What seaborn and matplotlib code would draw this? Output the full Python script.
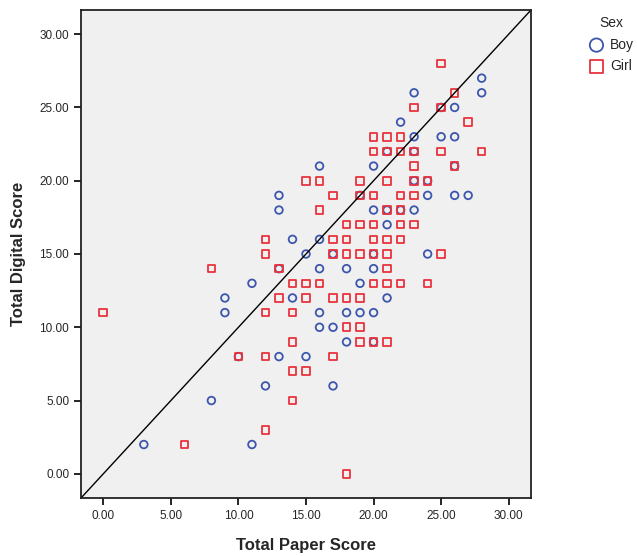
import pandas as pd
import numpy as np
import seaborn as sns
import matplotlib.pyplot as plt

# scores (paper, digital)
boy_paper = [28, 23, 28, 25, 26, 22, 23, 25, 26, 21, 23, 16, 20, 26, 23, 24,
             19, 24, 26, 27, 20, 21, 22, 23, 21, 16, 15, 17, 20, 24, 16, 18,
             20, 19, 21, 16, 18, 19, 20, 16, 17, 18, 20, 15, 17,
             13, 11, 9, 14, 9, 10, 13, 12, 8, 3, 11, 13, 13, 14]
boy_digital = [27, 26, 26, 25, 25, 24, 23, 23, 23, 22, 22, 21, 21, 21, 20, 20,
               19, 19, 19, 19, 18, 18, 18, 18, 17, 16, 15, 15, 15, 15, 14, 14,
               14, 13, 12, 11, 11, 11, 11, 10, 10, 9, 9, 8, 6,
               14, 13, 12, 12, 11, 8, 8, 6, 5, 2, 2, 19, 18, 16]

girl_paper = [25, 26, 23, 25, 27, 20, 21, 22, 20, 21, 22, 23, 25, 28, 23, 26,
              15, 16, 19, 21, 23, 24, 17, 19, 20, 22, 23, 16, 21, 22,
              18, 19, 20, 22, 23, 17, 18, 20, 21, 22, 17, 18, 19, 20, 21, 25,
              21, 15, 16, 20, 21, 22, 24, 15, 17, 18, 19, 18, 19, 19, 20, 21,
              17, 15, 18,
              12, 8, 13, 14, 13, 0, 12, 14, 14, 10, 12, 14, 14, 12, 6, 12]
girl_digital = [28, 26, 25, 25, 24, 23, 23, 23, 22, 22, 22, 22, 22, 22, 21, 21,
                20, 20, 20, 20, 20, 20, 19, 19, 19, 19, 19, 18, 18, 18,
                17, 17, 17, 17, 17, 16, 16, 16, 16, 16, 15, 15, 15, 15, 15, 15,
                14, 13, 13, 13, 13, 13, 13, 12, 12, 12, 12, 10, 10, 9, 9, 9,
                8, 7, 0,
                15, 14, 14, 13, 12, 11, 11, 11, 9, 8, 8, 7, 5, 3, 2, 16]

sexes = ["Boy", "Girl"]
markers = {"Boy": "o", "Girl": "s"}
colors = {"Boy": "#3d56ad", "Girl": "#e8333d"}

df = pd.concat([
    pd.DataFrame({"paper": boy_paper, "digital": boy_digital, "Sex": "Boy"}),
    pd.DataFrame({"paper": girl_paper, "digital": girl_digital, "Sex": "Girl"}),
])

sns.set_style("ticks")
plt.rcParams["font.family"] = ["Liberation Sans", "DejaVu Sans"]

fig = plt.figure(figsize=(6.37, 5.56), dpi=100)
ax = fig.add_axes([81 / 637, 1 - 498 / 556, 450 / 637, 488 / 556])
ax.set_facecolor("#f0f0f0")

for s in sexes:
    sub = df[df["Sex"] == s]
    sns.scatterplot(data=sub, x="paper", y="digital", marker=markers[s],
                    s=30, facecolor="none",
                    edgecolor=colors[s], linewidth=1.3, label=s, ax=ax)

# reference line y = x, corner to corner
lo, hi = -1.65, 31.65
ax.plot([lo, hi], [lo, hi], color="black", lw=1)
ax.set_xlim(lo, hi)
ax.set_ylim(lo, hi)

ticks = np.arange(0, 31, 5)
ax.set_xticks(ticks)
ax.set_yticks(ticks)
ax.set_xticklabels([f"{t:.2f}" for t in ticks], fontsize=8.5)
ax.set_yticklabels([f"{t:.2f}" for t in ticks], fontsize=8.5)
ax.tick_params(direction="out", length=5, width=1.2, color="black")

for sp in ax.spines.values():
    sp.set_visible(True)
    sp.set_color("#222222")
    sp.set_linewidth(1.3)

ax.set_xlabel("Total Paper Score", fontsize=12, fontweight="bold", labelpad=12)
ax.set_ylabel("Total Digital Score", fontsize=12, fontweight="bold", labelpad=10)

ax.legend(title="Sex", loc="upper left", bbox_to_anchor=(577 / 637, 1 - 5 / 556),
          bbox_transform=fig.transFigure, frameon=False, markerscale=1.75,
          fontsize=10, title_fontsize=10, handletextpad=0.4, borderpad=0.3,
          labelspacing=0.55, handlelength=1.2)

plt.savefig("out.png", dpi=100)
